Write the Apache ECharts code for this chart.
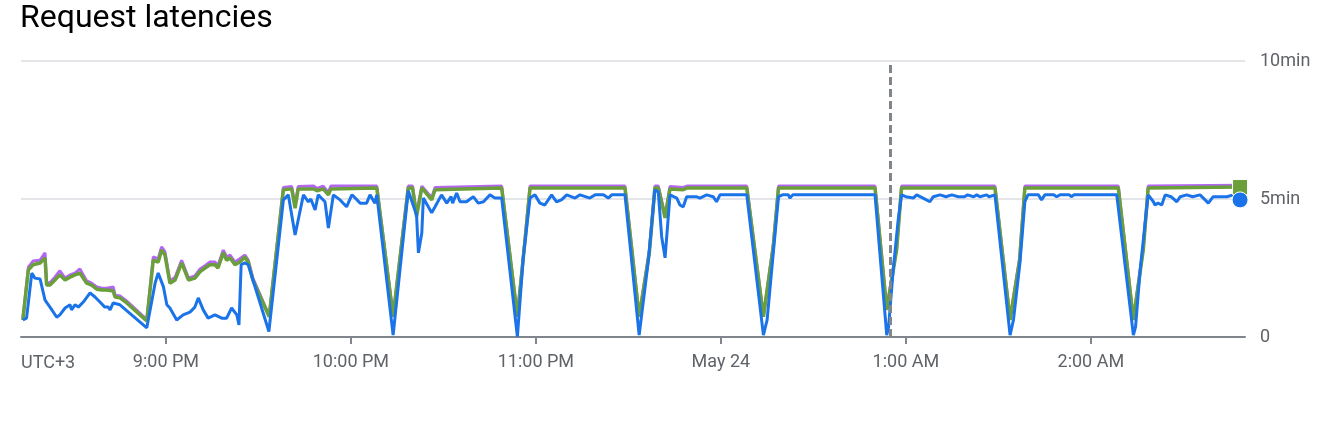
<!DOCTYPE html>
<html>
<head>
<meta charset="utf-8">
<script src="https://cdn.jsdelivr.net/npm/echarts@6/dist/echarts.min.js"></script>
<style>
html,body{margin:0;padding:0;background:#fff;}
#chart{width:1344px;height:438px;}
</style>
</head>
<body>
<div id="chart"></div>
<script>
// x values: minutes after 8:00 PM (May 23, UTC+3); y values: seconds
const xTickValues = [60, 120, 180, 240, 300, 360];
const xTickLabels = ['9:00 PM', '10:00 PM', '11:00 PM', 'May 24', '1:00 AM', '2:00 AM'];
const yTickLabels = { 0: '0', 300: '5min', 600: '10min' };
const cursorTime = 295;

const blueTimes = [13.6,14.8,16.5,17.5,19.2,20.8,22.4,24.6,25.6,27.3,28.9,29.4,30.5,31.6,33.2,35.4,37.0,38.6,40.2,41.3,41.9,42.9,45.1,53.8,
56.5,57.5,59.2,60.3,61.3,63.5,65.6,67.8,69.4,70.5,72.1,73.7,75.9,78.1,79.7,81.3,83.0,83.7,84.4,85.6,86.7,93.4,
98.1,99.7,101.9,104.6,106.2,107,108.4,109.4,111.6,112.7,114.3,116.5,118.6,120.3,121,123.0,125.1,126.2,127.8,128.4,133.7,
138.6,141.3,141.9,143.0,143.5,144.0,146.2,147.3,149.4,151.1,152.5,153,154.3,155.4,157.5,159.7,161.3,163,165.1,166.7,168.9,174.0,
175.9,178.1,179.7,181.3,182.9,185.1,186.7,188.3,190.0,192.7,194.3,197.5,199.2,201.9,203.5,204.6,208.9,213.5,
216.5,218.6,219.7,220.8,221.9,223.5,225.7,226.7,227.8,228.9,232,233.2,235.4,237.5,238.6,239.7,248.4,253.8,
255,257,258.7,260,261.9,262.4,263.3,290.0,293.8,
294.4,295.9,297.5,298.6,300,302.4,303.5,305.6,307.8,308.9,311.1,313,314.9,317,319,320,322,323,324,326.2,327,328.9,333.8,
334.9,337,338.6,339.6,343,344.0,345.1,348,348.9,350,353,353.8,354.5,368.4,373.8,
374.5,376,377.6,378.6,380.3,380.8,381.8,383.0,384.1,386,387.9,389,391.1,393,395.4,396.5,398.1,399.7,402,404.1,406.3,408.4];
const blueValues = [37,41,139,128,126,80,65,43,48,63,70,59,70,65,76,96,87,76,65,65,59,74,70,20,
117,139,109,70,63,37,48,54,65,85,59,41,48,41,41,63,48,26,157,161,157,12,
298,309,222,309,294,300,276,309,294,237,309,298,283,309,305,291,291,309,291,309,4,
318,265,183,226,302,298,270,283,309,291,305,291,313,294,294,305,291,294,309,302,302,1,
172,302,309,291,287,309,294,298,309,302,309,302,309,309,302,309,309,4,
167,320,315,218,172,309,302,287,283,305,305,302,309,305,294,309,309,4,
37,183,305,309,309,302,309,309,4,
22,146,254,309,305,302,309,302,294,305,309,305,309,305,305,309,305,309,305,309,305,309,4,
37,161,294,309,309,298,309,309,305,309,309,305,309,309,4,
22,146,248,309,294,287,291,287,309,305,294,305,309,305,309,302,291,305,305,305,309,302];

const upperTimes = [13.6,15.4,16.9,19.2,20.8,21.3,22.4,24.0,25.6,27.3,28.9,30.5,32.1,34.3,35.9,37.6,39.2,40.8,42.9,43.5,45.1,47.3,53.8,
55.9,57.5,58.6,59.7,61.3,63.0,65.1,67.3,69.4,71.1,72.7,74.3,75.9,76.9,78.6,79.7,80.8,82.4,84.0,85.6,86.7,88.2,93.5,
98.1,98.6,100.8,101.9,102.9,108,109,111,112.7,113.5,128.4,133.7,
138.6,140,141.3,143.0,146.2,147.3,168.9,174.0,
176.5,178.1,208.9,213.5,
216.8,218.6,219.7,221.9,223.5,227.8,229,248.4,253.8,
257,258.7,290.0,293.8,
297,298.6,328.9,333.8,
336.9,338.6,368.9,373.8,
377.0,378.6,408.4];
const greenValues = [37,146,157,161,172,113,113,124,135,124,130,135,139,117,113,104,102,102,100,87,85,74,35,
167,163,189,178,117,124,161,124,128,142,150,157,157,150,183,167,172,157,163,174,163,124,44,
320,324,322,280,322,322,318,322,309,322,324,44,
324,324,262,324,298,320,324,44,
211,324,324,44,
183,324,324,259,322,320,324,324,44,
196,324,324,59,
189,324,324,37,
167,324,324,37,
189,324,326];
const purpleValues = [40,152,165,167,183,118,118,130,144,128,135,139,148,122,117,109,106,106,109,91,89,78,38,
174,170,196,185,122,130,167,128,133,148,155,163,163,155,189,174,178,163,170,178,167,128,46,
325,328,327,285,327,328,323,328,314,328,328,46,
328,328,267,328,303,325,328,46,
216,328,328,46,
188,328,328,264,327,325,328,328,46,
201,328,328,62,
194,328,328,40,
172,328,328,40,
194,328,330];

const FONT = 'Roboto, "Noto Sans", sans-serif';
const COLORS = { purple: '#b366f2', green: '#6a9f3a', blue: '#1a73e8' };

const zip = (t, v) => t.map((x, i) => [x, v[i]]);
const lastOf = (t, v) => [t[t.length - 1], v[v.length - 1]];

function endMark(coord, symbol, size, color) {
  return {
    symbol: symbol, symbolSize: size, silent: true,
    label: { show: false },
    itemStyle: { color: color, borderColor: '#fff', borderWidth: 1 },
    data: [{ coord: coord }]
  };
}

const chart = echarts.init(document.getElementById('chart'), null, { renderer: 'canvas' });
chart.setOption({
  animation: false,
  backgroundColor: '#fff',
  title: {
    text: 'Request latencies', left: 20, top: 3, padding: 0,
    textStyle: { fontFamily: FONT, fontSize: 32, fontWeight: 'normal', color: '#000' }
  },
  grid: { left: 21, right: 99, top: 61, bottom: 101, containLabel: false },
  xAxis: {
    type: 'value', min: 13, max: 410,
    splitLine: { show: false },
    axisLine: { show: true, lineStyle: { color: '#80868b', width: 2 } },
    axisTick: { show: true, customValues: xTickValues, length: 7, lineStyle: { color: '#80868b', width: 2 } },
    axisLabel: {
      customValues: xTickValues, margin: 16,
      fontFamily: FONT, fontSize: 18, color: '#5f6368',
      formatter: v => xTickLabels[xTickValues.indexOf(v)] || ''
    }
  },
  yAxis: {
    type: 'value', position: 'right', min: 0, max: 600, interval: 300,
    axisLine: { show: false }, axisTick: { show: false },
    splitLine: { show: true, lineStyle: { color: '#dadce0', width: 1.5 } },
    axisLabel: {
      margin: 15, fontFamily: FONT, fontSize: 18, color: '#5f6368',
      formatter: v => yTickLabels[v] || ''
    }
  },
  graphic: [{
    type: 'text', left: 21, top: 354,
    style: { text: 'UTC+3', font: '18px ' + FONT, fill: '#5f6368' }
  }],
  series: [
    {
      name: 'p99', type: 'line', showSymbol: false, z: 2,
      lineStyle: { color: COLORS.purple, width: 3 },
      itemStyle: { color: COLORS.purple },
      data: zip(upperTimes, purpleValues),
      markPoint: endMark(lastOf(upperTimes, purpleValues), 'triangle', 15, COLORS.purple)
    },
    {
      name: 'p95', type: 'line', showSymbol: false, z: 3,
      lineStyle: { color: COLORS.green, width: 3.5 },
      itemStyle: { color: COLORS.green },
      data: zip(upperTimes, greenValues),
      markPoint: endMark(lastOf(upperTimes, greenValues), 'rect', 15, COLORS.green)
    },
    {
      name: 'p50', type: 'line', showSymbol: false, z: 4,
      lineStyle: { color: COLORS.blue, width: 3 },
      itemStyle: { color: COLORS.blue },
      data: zip(blueTimes, blueValues),
      markPoint: endMark([blueTimes[blueTimes.length - 1], 298], 'circle', 16, COLORS.blue),
      markLine: {
        silent: true, symbol: ['none', 'none'], label: { show: false },
        lineStyle: { color: '#80868b', width: 3, type: [8, 4] },
        data: [{ xAxis: cursorTime }]
      }
    }
  ]
});
</script>
</body>
</html>
